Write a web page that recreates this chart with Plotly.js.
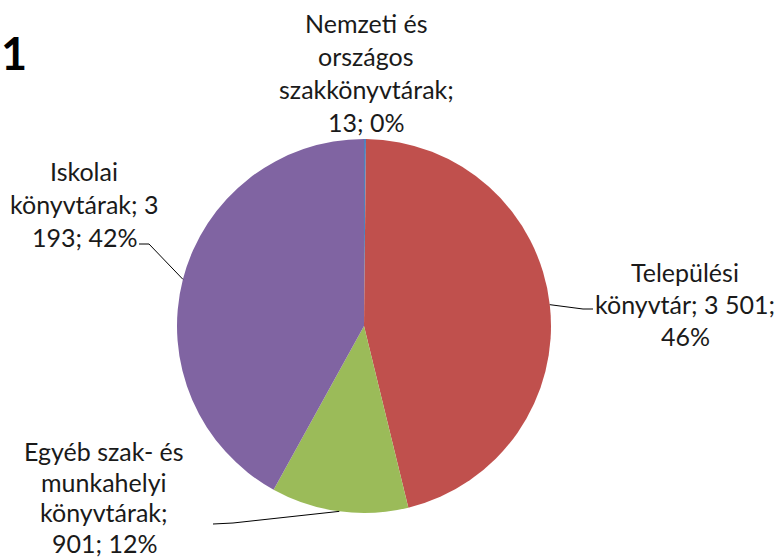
<!DOCTYPE html>
<html><head><meta charset="utf-8">
<script src="https://cdn.plot.ly/plotly-3.0.1.min.js"></script>
<style>html,body{margin:0;padding:0;background:#fff}#chart{width:775px;height:559px}</style>
</head><body><div id="chart"></div>
<script>
const categories = ["Nemzeti és országos szakkönyvtárak", "Települési könyvtár", "Egyéb szak- és munkahelyi könyvtárak", "Iskolai könyvtárak"];
const values = [13, 3501, 901, 3193];
const colors = ["#4F81BD", "#C0504D", "#9BBB59", "#8064A2"];
const labelLines = [
  ["Nemzeti és", "országos", "szakkönyvtárak;", "13; 0%"],
  ["Települési", "könyvtár; 3 501;", "46%"],
  ["Egyéb szak- és", "munkahelyi", "könyvtárak;", "901; 12%"],
  ["Iskolai", "könyvtárak; 3", "193; 42%"]
];

const W = 775, H = 559;
const cx = 364, cy = 326, R = 187;
const px = x => x / W, py = y => 1 - y / H;

// label block centers (first line y) and line spacing
const labelPos = [[366, 23], [685, 272], [104, 451], [84, 171]];
const lineGaps = [33, 32, 30.5, 33];
// leader line start (text side) points
const leaderStart = [null, [[593, 309], [583, 309]], [[213, 524], [233, 523]], [[139, 244], [149, 244]]];

const total = values.reduce((a, b) => a + b, 0);
const annotations = [];
labelLines.forEach((lines, i) => {
  lines.forEach((t, j) => {
    annotations.push({
      text: t, xref: "paper", yref: "paper", x: px(labelPos[i][0]), y: py(labelPos[i][1] + j * lineGaps[i]),
      xanchor: "center", yanchor: "middle", showarrow: false,
      font: {family: "Lato, 'Open Sans', sans-serif", size: 25, color: "#1a1a1a"}
    });
  });
});

const shapes = [];
let cum = 0;
values.forEach((v, i) => {
  const mid = (cum + v / 2) / total * 2 * Math.PI;
  cum += v;
  if (!leaderStart[i]) return;
  const ex = cx + R * Math.sin(mid), ey = cy - R * Math.cos(mid);
  const pts = leaderStart[i].concat([[ex, ey]]);
  const path = pts.map((p, k) => (k ? "L" : "M") + px(p[0]) + "," + py(p[1])).join(" ");
  shapes.push({type: "path", xref: "paper", yref: "paper", path: path, line: {color: "#000000", width: 1}});
});

const data = [{
  type: "pie", labels: categories, values: values, sort: false, direction: "clockwise", rotation: 0,
  marker: {colors: colors, line: {width: 0}}, textinfo: "none", hoverinfo: "label+value+percent",
  domain: {x: [px(cx - R), px(cx + R)], y: [py(cy + R), py(cy - R)]}
}];

const layout = {
  width: W, height: H, margin: {l: 0, r: 0, t: 0, b: 0}, showlegend: false,
  paper_bgcolor: "#ffffff",
  title: {text: "<b>1</b>", x: px(1), xanchor: "left", xref: "paper", y: py(54), yanchor: "middle", yref: "paper",
          pad: {l: 0, r: 0, t: 0, b: 0},
          font: {family: "Lato, 'Open Sans', sans-serif", size: 45, color: "#000000"}},
  annotations: annotations, shapes: shapes
};
Plotly.newPlot("chart", data, layout, {displayModeBar: false, staticPlot: true});
</script></body></html>
